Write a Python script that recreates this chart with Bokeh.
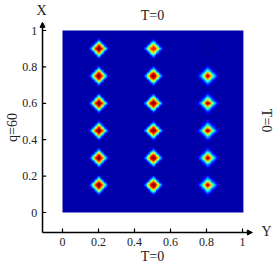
import numpy as np
from bokeh.plotting import figure
from bokeh.models import Arrow, NormalHead, Range1d
from bokeh.core.properties import value
from bokeh.embed import file_html
from bokeh.resources import INLINE

# ---- data ----
blob_cols = [0.2, 0.5, 0.8]
blob_rows = [0.15, 0.3, 0.45, 0.6, 0.75, 0.9]
amp_col_02 = [0.90, 0.90, 0.90, 0.90, 0.90, 0.90]
amp_col_05 = [0.90, 0.90, 0.90, 0.90, 0.90, 0.78]
amp_col_08 = [0.92, 0.94, 0.94, 0.94, 0.93, -0.05]
col_width = [0.041, 0.041, 0.035]
col_sharp = [2.5, 2.5, 1.6]
background_level = 0.04
x_ticks = [0, 0.2, 0.4, 0.6, 0.8, 1]
y_ticks = [0, 0.2, 0.4, 0.6, 0.8, 1]
x_tick_labels = ["0", "0.2", "0.4", "0.6", "0.8", "1"]
y_tick_labels = ["0", "0.2", "0.4", "0.6", "0.8", "1"]

# ---- jet palette ----
def jet_hex(t):
    r = min(max(1.5 - abs(4 * t - 3), 0), 1)
    g = min(max(1.5 - abs(4 * t - 2), 0), 1)
    b = min(max(1.5 - abs(4 * t - 1), 0), 1)
    return "#%02x%02x%02x" % (int(r * 255), int(g * 255), int(b * 255))

jet = [jet_hex(i / 255) for i in range(256)]

# ---- build field from blob amplitudes ----
N = 240
cs = (np.arange(N) + 0.5) / N
XX, YY = np.meshgrid(cs, cs)
field = np.full((N, N), background_level)
amps = [amp_col_02, amp_col_05, amp_col_08]
for cx, col_amps, s, k in zip(blob_cols, amps, col_width, col_sharp):
    for cy, A in zip(blob_rows, col_amps):
        d = np.abs(XX - cx) + np.abs(YY - cy)
        if A >= 0:
            field = np.maximum(field, A * np.exp(-(d / s) ** k))
        else:
            field = field + np.where(np.abs(d - 0.036) < 0.004, A, 0.0)
field = np.clip(field, 0, 1)

W, H = 276, 266
x0_px, x_scale = 62.0, 180.0
y0_px, y_scale = 212.0, 182.0
p = figure(width=W, height=H, output_backend="svg", toolbar_location=None,
           min_border=0,
           x_range=Range1d(-x0_px / x_scale, (W - x0_px) / x_scale),
           y_range=Range1d((y0_px - H) / y_scale, y0_px / y_scale))
p.axis.visible = False
p.grid.visible = False
p.outline_line_color = None
p.background_fill_color = None
p.border_fill_color = "white"

p.image(image=[field], x=0, y=0, dw=1.005, dh=1, palette=jet,
        level="image")

ax0x = -0.111
ax0y = -0.11
p.add_layout(Arrow(x_start=ax0x, y_start=ax0y, x_end=ax0x, y_end=1.045,
                   line_width=1.5, line_color="black",
                   end=NormalHead(size=5, fill_color="black", line_color="black")))
p.add_layout(Arrow(x_start=ax0x, y_start=ax0y, x_end=1.055, y_end=ax0y,
                   line_width=1.5, line_color="black",
                   end=NormalHead(size=5, fill_color="black", line_color="black")))

p.segment(x0=[ax0x] * len(y_ticks), y0=y_ticks,
          x1=[ax0x + 0.02] * len(y_ticks), y1=y_ticks,
          line_color="black", line_width=1.2)
p.segment(x0=x_ticks, y0=[ax0y] * len(x_ticks),
          x1=x_ticks, y1=[ax0y + 0.022] * len(x_ticks),
          line_color="black", line_width=1.2)

font = value("Liberation Serif")
p.text(x=[-0.14] * len(y_ticks), y=y_ticks, text=y_tick_labels,
       text_font=font, text_font_size="12px", text_align="right",
       text_baseline="middle", text_color="#222222")
p.text(x=x_ticks, y=[-0.162] * len(x_ticks), text=x_tick_labels,
       text_font=font, text_font_size="12px", text_align="center",
       text_baseline="middle", text_color="#222222")

p.text(x=[-0.117], y=[1.112], text=["X"], text_font=font,
       text_font_size="14px", text_align="center", text_baseline="middle",
       text_color="#222222")
p.text(x=[1.133], y=[-0.104], text=["Y"], text_font=font,
       text_font_size="14px", text_align="center", text_baseline="middle",
       text_color="#222222")
p.text(x=[0.5], y=[1.082], text=["T=0"], text_font=font,
       text_font_size="14px", text_align="center", text_baseline="middle",
       text_color="#222222")
p.text(x=[0.5], y=[-0.242], text=["T=0"], text_font=font,
       text_font_size="14px", text_align="center", text_baseline="middle",
       text_color="#222222")
p.text(x=[1.135], y=[0.505], text=["T=0"], text_font=font,
       text_font_size="14px", text_align="center", text_baseline="middle",
       angle=-np.pi / 2, text_color="#222222")
p.text(x=[-0.278], y=[0.467], text=["q=60"], text_font=font,
       text_font_size="14px", text_align="center", text_baseline="middle",
       angle=np.pi / 2, text_color="#222222")

open("out.html", "w").write(file_html(p, INLINE))
